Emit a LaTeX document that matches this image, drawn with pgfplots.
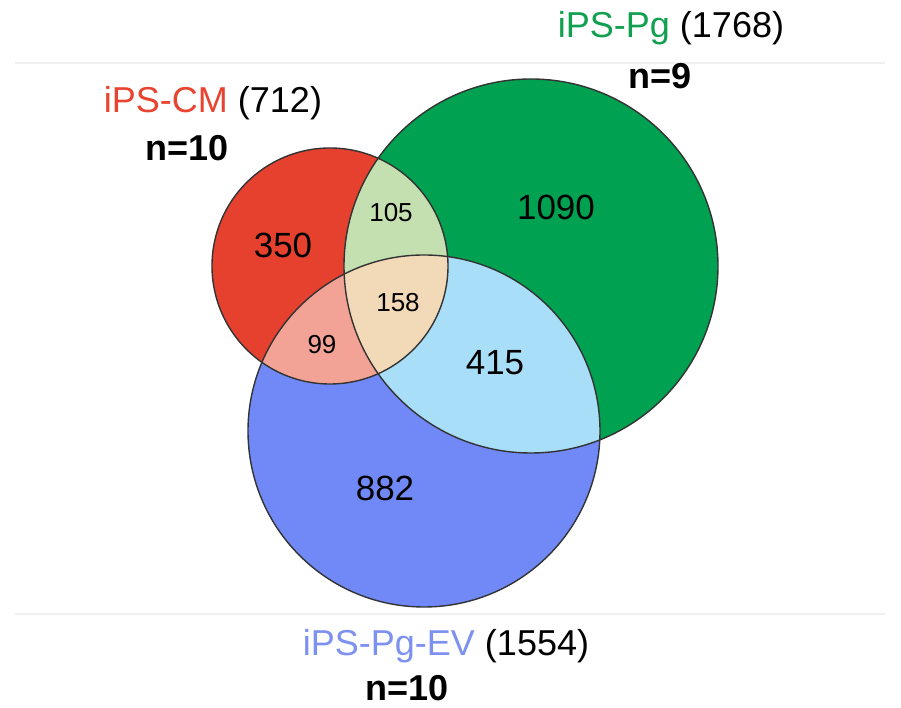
\documentclass[border=0pt]{standalone}
\usepackage{pgfplots}
\pgfplotsset{compat=1.18}
\usepackage{fontspec}
\setmainfont{Liberation Sans}
\definecolor{cmred}{RGB}{230,65,47}
\definecolor{pggreen}{RGB}{0,161,80}
\definecolor{evblue}{RGB}{112,137,247}
\definecolor{rg}{RGB}{196,224,176}
\definecolor{rb}{RGB}{243,163,150}
\definecolor{gb}{RGB}{168,222,248}
\definecolor{rgbc}{RGB}{242,217,183}
\definecolor{labblue}{RGB}{125,145,240}
\definecolor{labred}{RGB}{232,68,48}
\definecolor{labgreen}{RGB}{16,160,80}
\begin{document}
\begin{tikzpicture}
\begin{axis}[scale only axis, width=450.5pt, height=351pt,
  xmin=0, xmax=901, ymin=0, ymax=702, y dir=reverse,
  hide axis, clip=false]
\fill[white] (axis cs:0,0) rectangle (axis cs:901,702);
\draw[black!6, line width=0.6pt] (axis cs:15,63) -- (axis cs:885,63);
\draw[black!6, line width=0.6pt] (axis cs:15,614) -- (axis cs:885,614);
% base circles
\fill[pggreen] (axis cs:531,266) circle[radius=187];
\fill[evblue] (axis cs:424,431) circle[radius=176];
\fill[cmred] (axis cs:330,266) circle[radius=118];
% pairwise
\begin{scope}
  \clip (axis cs:330,266) circle[radius=118];
  \fill[rg] (axis cs:531,266) circle[radius=187];
  \fill[rb] (axis cs:424,431) circle[radius=176];
\end{scope}
\begin{scope}
  \clip (axis cs:531,266) circle[radius=187];
  \fill[gb] (axis cs:424,431) circle[radius=176];
\end{scope}
\begin{scope}
  \clip (axis cs:330,266) circle[radius=118];
  \clip (axis cs:531,266) circle[radius=187];
  \fill[rgbc] (axis cs:424,431) circle[radius=176];
\end{scope}
% outlines
\draw[black!80, line width=0.7pt] (axis cs:531,266) circle[radius=187];
\draw[black!80, line width=0.7pt] (axis cs:424,431) circle[radius=176];
\draw[black!80, line width=0.7pt] (axis cs:330,266) circle[radius=118];
% counts
\node[font=\fontsize{17.5}{20}\selectfont] at (axis cs:283,245) {350};
\node[font=\fontsize{17.5}{20}\selectfont] at (axis cs:556,207) {1090};
\node[font=\fontsize{13}{15}\selectfont] at (axis cs:391,213) {105};
\node[font=\fontsize{13}{15}\selectfont] at (axis cs:398,303) {158};
\node[font=\fontsize{13}{15}\selectfont] at (axis cs:322,345) {99};
\node[font=\fontsize{17.5}{20}\selectfont] at (axis cs:495,363) {415};
\node[font=\fontsize{17.5}{20}\selectfont] at (axis cs:385,488) {882};
% labels
\node[font=\fontsize{18}{20}\selectfont] at (axis cs:213,103) {\textcolor{labred}{iPS-CM} (712)};
\node[font=\fontsize{18}{20}\selectfont\bfseries] at (axis cs:187,148) {n=10};
\node[font=\fontsize{18}{20}\selectfont] at (axis cs:671,28) {\textcolor{labgreen}{iPS-Pg} (1768)};
\node[font=\fontsize{18}{20}\selectfont\bfseries] at (axis cs:660,76) {n=9};
\node[font=\fontsize{18}{20}\selectfont] at (axis cs:446,646) {\textcolor{labblue}{iPS-Pg-EV} (1554)};
\node[font=\fontsize{18}{20}\selectfont\bfseries] at (axis cs:407,688) {n=10};
\end{axis}
\end{tikzpicture}
\end{document}
